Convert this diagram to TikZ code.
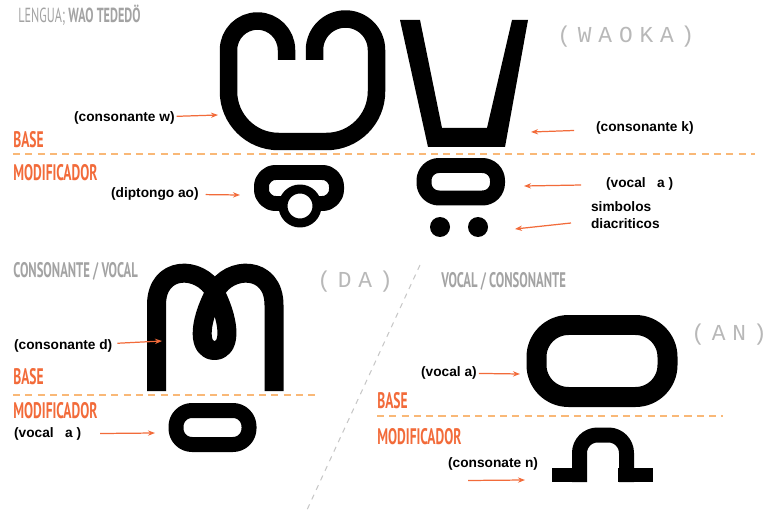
\documentclass[tikz,border=0pt]{standalone}
\usepackage{fontspec}
\setmainfont{Liberation Sans}
\newfontfamily\headfont{PT Sans}[FakeStretch=0.6]
\newfontfamily\spacedmono{Liberation Mono}[LetterSpace=30]
\usetikzlibrary{arrows.meta, calc}
\definecolor{accent}{HTML}{F26B3A}
\definecolor{dashorange}{HTML}{F9B877}
\definecolor{headgray}{HTML}{A3A3A3}
\definecolor{monogray}{HTML}{B8B8B8}

\begin{document}
\begin{tikzpicture}[
    x=0.02cm, y=-0.02cm,
    >=Stealth,
    lbl/.style={font=\fontsize{7.8}{9.7}\selectfont\bfseries, anchor=west, inner sep=1pt, align=left},
    part/.style={font=\headfont\bfseries\fontsize{12.8}{14}\selectfont, text=accent, anchor=west, inner sep=0pt},
    group/.style={font=\headfont\bfseries\fontsize{12}{13}\selectfont, text=headgray, anchor=west, inner sep=0pt},
    reading/.style={font=\spacedmono\fontsize{13}{14}\selectfont, text=monogray, anchor=west, inner sep=0pt},
    arrow/.style={-{Stealth[length=4pt, width=3pt]}, accent, line width=0.7pt},
    split/.style={dashorange, line width=0.8pt, dash pattern=on 4pt off 3pt},
    sep/.style={black!22, line width=0.6pt, dash pattern=on 3pt off 3pt},
    ink/.style={draw=black, line join=round},
]
\useasboundingbox (0,0) rectangle (767,513);

% === TOP: waoka ===

\node[group, font=\headfont\fontsize{11.6}{13}\selectfont] (lang) at (18,15) {LENGUA; {\bfseries WAO TEDED\"O}};
\node[reading] (waoka) at (557,37) {(WAOKA)};

\node[part] (base-a) at (13,140) {BASE};
\node[part] (mod-a) at (13,173) {MODIFICADOR};
\draw[split] (13,154) -- (755,154);

% consonant w
\draw[ink, line width=0.35cm] (286.5,60) -- (286.5,50) arc[start angle=0, end angle=-180, radius=29]
    -- (228.5,91.5) arc[start angle=180, end angle=90, radius=50]
    -- (326.5,141.5) arc[start angle=90, end angle=0, radius=50]
    -- (376.5,50) arc[start angle=0, end angle=-180, radius=31] -- (314.5,60);
% diphthong ao
\draw[ink, line width=0.3cm, rounded corners=0.28cm] (261.5,172.5) rectangle (336.5,203.5);
\draw[ink, line width=0.18cm, fill=white] (300,206) circle[radius=17];

% consonant k
\fill (400,20) -- (420,20) -- (442,128) -- (487,128) -- (512,20) -- (528,20) -- (505,147) -- (428,147) -- cycle;
% vowel a + dots
\draw[ink, line width=0.3cm, rounded corners=0.3cm] (424,165.5) rectangle (497.5,198);
\fill (440,227) circle[radius=10];
\fill (478,227) circle[radius=10];

\node[lbl] (lbl-w) at (72,118) {(consonante w)};
\node[lbl] (lbl-ao) at (109,194) {(diptongo ao)};
\node[lbl] (lbl-k) at (594,128) {(consonante k)};
\node[lbl] (lbl-ka) at (604,184) {(vocal\ \ \ a\ )};
\node[lbl] (lbl-diac) at (589,215) {simbolos\\diacriticos};

\coordinate (w-tip) at (218,115);
\coordinate (ao-tip) at (240,195);
\coordinate (k-tip) at (531,132);
\coordinate (ka-tip) at (524,186);
\coordinate (diac-tip) at (515,229);

\draw[arrow] (lbl-w) -- (w-tip);
\draw[arrow, shorten <=0.1cm] (lbl-ao) -- (ao-tip);
\draw[arrow, shorten <=0.4cm] (lbl-k) -- (k-tip);
\draw[arrow, shorten <=0.46cm] (lbl-ka) -- (ka-tip);
\draw[arrow] ($(lbl-diac.west)+(-18,8)$) -- (diac-tip);

% dividing line
\draw[sep] (420,265) -- (306,512);

% === BOTTOM LEFT: da ===

\node[group] (cv) at (13,271) {CONSONANTE / VOCAL};
\node[reading] (da) at (317,282) {(DA)};

\node[part] (base-b) at (13,377) {BASE};
\node[part] (mod-b) at (13,411) {MODIFICADOR};
\draw[split] (13,395) -- (318,395);

% consonant d
\draw[ink, line width=0.38cm] (156.5,391) -- (156.5,305)
    .. controls (156.5,265) and (200,265) .. (215,292)
    .. controls (232,326) and (230,350.5) .. (214.5,350.5)
    .. controls (199,350.5) and (197,326) .. (215,292)
    .. controls (229,265) and (274,265) .. (274,305) -- (274,391);
% vowel a
\draw[ink, line width=0.3cm, rounded corners=0.32cm] (176,410.5) rectangle (249,444.5);

\node[lbl] (lbl-d) at (12,346) {(consonante d)};
\node[lbl] (lbl-da) at (12,434) {(vocal\ \ \ a\ )};
\coordinate (d-tip) at (162,341);
\coordinate (da-tip) at (155,433);
\draw[arrow, shorten <=0.06cm] (lbl-d) -- (d-tip);
\draw[arrow, shorten <=0.34cm] (lbl-da) -- (da-tip);

% === BOTTOM RIGHT: an ===

\node[group] (vc) at (441,281) {VOCAL / CONSONANTE};
\node[reading] (an) at (691,335) {(AN)};

\node[part] (base-c) at (377,401) {BASE};
\node[part] (mod-c) at (377,437) {MODIFICADOR};
\draw[split] (377,416) -- (723,416);

% vowel a
\draw[ink, line width=0.4cm, rounded corners=0.64cm] (536.5,325) rectangle (667.5,397);
% consonant n
\draw[ink, line width=0.3cm, rounded corners=0.36cm] (579.5,482) -- (579.5,435) -- (626.5,435) -- (626.5,482);
\fill (552,468) rectangle (587,482);
\fill (618,468) rectangle (653,482);

\node[lbl] (lbl-an) at (419,373) {(vocal a)};
\node[lbl] (lbl-n) at (446,464) {(consonate n)};
\coordinate (an-tip) at (520,374);
\coordinate (n-tip) at (525,480);
\draw[arrow] (lbl-an) -- (an-tip);
\draw[arrow] ($(lbl-n.south west)+(22,8)$) -- (n-tip);

\end{tikzpicture}
\end{document}
